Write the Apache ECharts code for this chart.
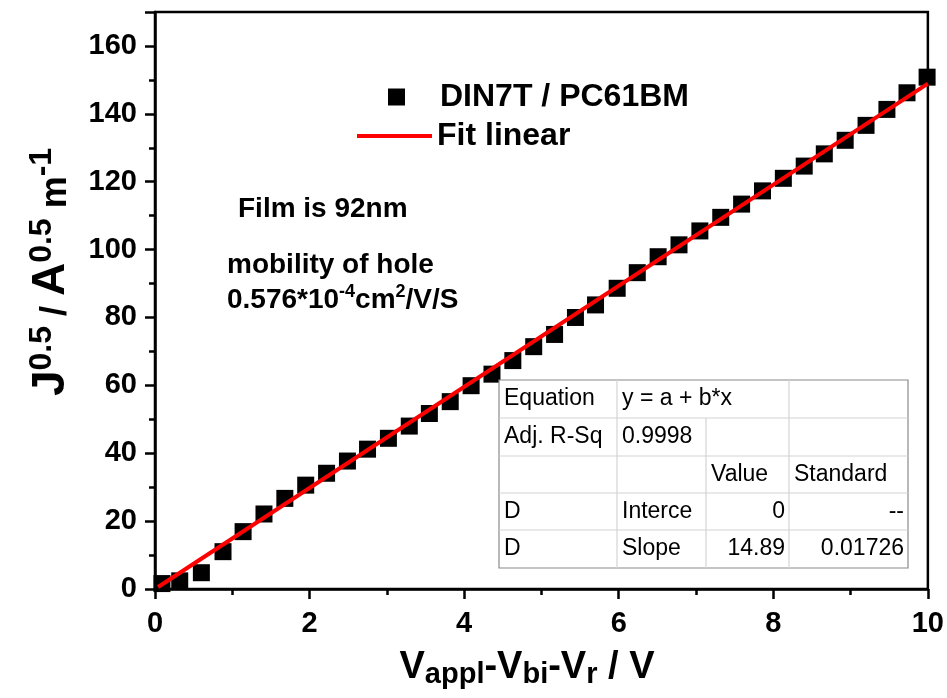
<!DOCTYPE html>
<html>
<head>
<meta charset="utf-8">
<script src="https://cdn.jsdelivr.net/npm/echarts@6/dist/echarts.min.js"></script>
<style>
  html, body { margin: 0; padding: 0; background: #ffffff; }
  #chart { width: 947px; height: 698px; }
</style>
</head>
<body>
<div id="chart"></div>
<script>
// Space-charge-limited current: sqrt(J) against corrected voltage
const voltage = [0.09, 0.32, 0.60, 0.88, 1.14, 1.41, 1.68, 1.95, 2.22, 2.49, 2.75, 3.02, 3.29, 3.55,
                 3.82, 4.09, 4.36, 4.63, 4.90, 5.17, 5.44, 5.70, 5.98, 6.24, 6.51, 6.78, 7.05, 7.32,
                 7.59, 7.86, 8.13, 8.40, 8.66, 8.93, 9.20, 9.47, 9.73, 9.99];
const sqrtJ = [1.6, 2.4, 4.8, 11.0, 16.9, 22.1, 26.7, 30.6, 34.1, 37.7, 41.2, 44.4, 48.0, 51.7,
               55.2, 59.9, 63.3, 67.3, 71.4, 75.0, 80.0, 83.7, 88.6, 93.2, 97.9, 101.4, 105.5, 109.5,
               113.4, 117.3, 121.0, 124.6, 128.2, 132.2, 136.6, 141.3, 146.2, 150.8];

// Linear fit y = a + b*x
const fitIntercept = 0;
const fitSlope = 14.89;
const fitXRange = [0.04, 10];

// Axis ranges and tick steps
const xRange = [0, 10];
const xStep = 2;
const yRange = [0, 170];
const yStep = 20;
const yMinorStep = 10;

// Fit result table
const tableRows = [
  ['Equation', 'y = a + b*x', '', ''],
  ['Adj. R-Sq', '0.9998', '', ''],
  ['', '', 'Value', 'Standard'],
  ['D', 'Interce', '0', '--'],
  ['D', 'Slope', '14.89', '0.01726']
];

const seriesNames = ['DIN7T / PC61BM', 'Fit linear'];

const FONT = 'Arial, "Liberation Sans", Helvetica, sans-serif';

const scatterData = voltage.map((v, i) => [v, sqrtJ[i]]);
const fitData = fitXRange.map(x => [x, fitIntercept + fitSlope * x]);

// ---- table graphic ----
const colEdges = [499, 617, 706, 789, 908];
const rowEdges = [380, 418, 456, 493, 530, 568];
// cells whose text sits at the right edge of the cell
const rightAligned = (r, c) => (r >= 3 && c >= 2);
// in the first row the second cell spans two columns
const hiddenDividers = { 0: [2] };

const tableChildren = [];
tableChildren.push({
  type: 'rect',
  shape: { x: colEdges[0], y: rowEdges[0], width: colEdges[4] - colEdges[0], height: rowEdges[5] - rowEdges[0] },
  style: { fill: '#ffffff', stroke: '#8a8a8a', lineWidth: 1.2 },
  z: 10
});
for (let r = 1; r < rowEdges.length - 1; r++) {
  tableChildren.push({
    type: 'line',
    shape: { x1: colEdges[0], y1: rowEdges[r], x2: colEdges[4], y2: rowEdges[r] },
    style: { stroke: '#d4d4d4', lineWidth: 1.2 },
    z: 11
  });
}
for (let r = 0; r < tableRows.length; r++) {
  for (let c = 1; c < colEdges.length - 1; c++) {
    if (hiddenDividers[r] && hiddenDividers[r].includes(c)) continue;
    tableChildren.push({
      type: 'line',
      shape: { x1: colEdges[c], y1: rowEdges[r], x2: colEdges[c], y2: rowEdges[r + 1] },
      style: { stroke: '#d4d4d4', lineWidth: 1.2 },
      z: 11
    });
  }
  tableRows[r].forEach((txt, c) => {
    if (!txt) return;
    const right = rightAligned(r, c);
    tableChildren.push({
      type: 'text',
      x: right ? colEdges[c + 1] - 4 : colEdges[c] + 5,
      y: (rowEdges[r] + rowEdges[r + 1]) / 2,
      style: {
        text: txt,
        font: '23px ' + FONT,
        fill: '#000000',
        align: right ? 'right' : 'left',
        verticalAlign: 'middle'
      },
      z: 12
    });
  });
}

// rich text styles for super/subscripts
const supStyles = {
  b: { fontSize: 28, fontWeight: 'bold', fontFamily: FONT, lineHeight: 31, verticalAlign: 'bottom', fill: '#000' },
  sup: { fontSize: 18, fontWeight: 'bold', fontFamily: FONT, lineHeight: 17, verticalAlign: 'top', fill: '#000' }
};

const option = {
  backgroundColor: '#ffffff',
  animation: false,
  grid: {
    left: 155, right: 18, top: 12, bottom: 109,
    show: true, borderColor: '#000000', borderWidth: 2.5, backgroundColor: 'transparent'
  },
  xAxis: {
    type: 'value',
    min: xRange[0], max: xRange[1], interval: xStep,
    axisLine: { show: true, onZero: false, lineStyle: { color: '#000', width: 2.5 } },
    axisTick: { show: true, inside: false, length: 10, lineStyle: { color: '#000', width: 2.5 } },
    minorTick: { show: true, splitNumber: 2, length: 6, lineStyle: { color: '#000', width: 2.5 } },
    splitLine: { show: false },
    axisLabel: { margin: 20, color: '#000', fontSize: 29, fontWeight: 'bold', fontFamily: FONT }
  },
  yAxis: [
    {
      type: 'value',
      min: yRange[0], max: yRange[1], interval: yStep,
      axisLine: { show: true, onZero: false, lineStyle: { color: '#000', width: 2.5 } },
      axisTick: { show: true, inside: false, length: 10, lineStyle: { color: '#000', width: 2.5 } },
      splitLine: { show: false },
      axisLabel: {
        margin: 18, color: '#000', fontSize: 29, fontWeight: 'bold', fontFamily: FONT,
        formatter: v => (v % yStep === 0 ? String(v) : '')
      }
    },
    {
      type: 'value',
      position: 'left',
      min: yRange[0], max: yRange[1], interval: yMinorStep,
      axisLine: { show: false },
      axisTick: { show: true, inside: false, length: 6, lineStyle: { color: '#000', width: 2.5 } },
      splitLine: { show: false },
      axisLabel: { show: false }
    }
  ],
  legend: [
    {
      data: [{ name: seriesNames[0], icon: 'rect' }],
      left: 388, top: 80, padding: 0,
      itemWidth: 17, itemHeight: 17,
      selectedMode: false,
      itemStyle: { color: '#000000', opacity: 1 },
      textStyle: { fontSize: 32, fontWeight: 'bold', fontFamily: FONT, color: '#000', padding: [0, 0, 0, 30], lineHeight: 34 }
    },
    {
      data: [{ name: seriesNames[1], icon: 'rect' }],
      left: 357, top: 119, padding: 0,
      itemWidth: 75, itemHeight: 4,
      selectedMode: false,
      itemStyle: { color: '#ff0000' },
      textStyle: { fontSize: 32, fontWeight: 'bold', fontFamily: FONT, color: '#000', lineHeight: 34 }
    }
  ],
  series: [
    {
      name: seriesNames[0],
      type: 'scatter',
      data: scatterData,
      symbol: 'rect',
      symbolSize: 17,
      itemStyle: { color: '#000000', opacity: 1 },
      clip: true,
      z: 2
    },
    {
      name: seriesNames[1],
      type: 'line',
      data: fitData,
      symbol: 'none',
      showSymbol: false,
      lineStyle: { color: '#ff0000', width: 4 },
      itemStyle: { color: '#ff0000' },
      clip: true,
      z: 3
    }
  ],
  graphic: [
    {
      type: 'text', left: 238, top: 195, z: 20,
      style: { text: 'Film is 92nm', font: 'bold 28px ' + FONT, fill: '#000' }
    },
    {
      type: 'text', left: 227, top: 251, z: 20,
      style: { text: 'mobility of hole', font: 'bold 28px ' + FONT, fill: '#000' }
    },
    {
      type: 'text', left: 227, top: 283, z: 20,
      style: {
        text: '{b|0.576*10}{sup|-4}{b|cm}{sup|2}{b|/V/S}',
        rich: supStyles
      }
    },
    {
      type: 'text', z: 20,
      x: 50, y: 272, rotation: Math.PI / 2,
      style: {
        text: '{b|J}{s|0.5}{m| / }{b|A}{s|0.5}{m| m}{s|-1}',
        align: 'center', verticalAlign: 'middle',
        rich: {
          b: { fontSize: 46, fontWeight: 'bold', fontFamily: FONT, lineHeight: 48, verticalAlign: 'bottom', fill: '#000' },
          s: { fontSize: 32, fontWeight: 'bold', fontFamily: FONT, lineHeight: 30, verticalAlign: 'top', fill: '#000' },
          m: { fontSize: 36, fontWeight: 'bold', fontFamily: FONT, lineHeight: 38, verticalAlign: 'bottom', fill: '#000' }
        }
      }
    },
    {
      type: 'text', z: 20,
      x: 527, y: 669,
      style: {
        text: '{b|V}{sub|appl}{b|-V}{sub|bi}{b|-V}{sub|r}{b| / V}',
        align: 'center', verticalAlign: 'middle',
        rich: {
          b: { fontSize: 38, fontWeight: 'bold', fontFamily: FONT, lineHeight: 40, verticalAlign: 'top', fill: '#000' },
          sub: { fontSize: 29, fontWeight: 'bold', fontFamily: FONT, lineHeight: 30, padding: [16, 0, 0, 0], verticalAlign: 'bottom', fill: '#000' }
        }
      }
    },
    { type: 'group', children: tableChildren }
  ]
};

const chart = echarts.init(document.getElementById('chart'), null, { renderer: 'canvas' });
chart.setOption(option);
</script>
</body>
</html>
